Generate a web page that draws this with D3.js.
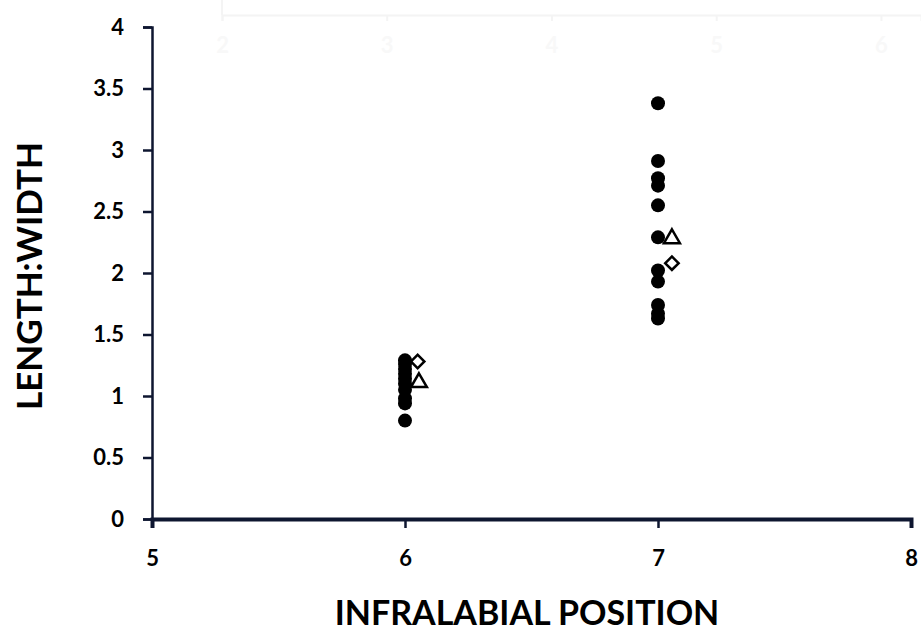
<!DOCTYPE html>
<html>
<head>
<meta charset="utf-8">
<script src="https://cdn.jsdelivr.net/npm/d3@7"></script>
<style>
  body { margin: 0; background: #fff; }
  svg { display: block; }
  .tick text { font-family: Lato, "Open Sans", sans-serif; font-weight: bold; }
</style>
</head>
<body>
<div id="chart"></div>
<script>
// filled circles (specimens) at each infralabial position
const circleX6 = [1.29, 1.26, 1.22, 1.18, 1.14, 1.10, 1.05, 0.98, 0.94, 0.80];
const circleX7 = [3.38, 2.91, 2.77, 2.71, 2.55, 2.29, 2.02, 1.93, 1.74, 1.67, 1.63];
// open markers, slightly offset to the right
const triPoints = [{x: 6.055, y: 1.11}, {x: 7.055, y: 2.28}];
const diaPoints = [{x: 6.05, y: 1.28}, {x: 7.055, y: 2.08}];
const xTicks = [5, 6, 7, 8];
const yTicks = [0, 0.5, 1, 1.5, 2, 2.5, 3, 3.5, 4];
const ghostTicks = [2, 3, 4, 5, 6]; // faint remnant of another panel at the top

const width = 921, height = 638;
const axisColor = "#0e1630";

const svg = d3.select("#chart")
    .append("svg")
        .attr("width", width)
        .attr("height", height);

// ghost axis, almost invisible
const gx = d3.scaleLinear().domain([2, 6.243]).range([222, 921]);
svg.append("line")
    .attr("x1", 222).attr("x2", 222).attr("y1", 0).attr("y2", 15)
    .attr("stroke", "#f4f4f4").attr("stroke-width", 2);
const ghost = svg.append("g")
    .attr("transform", "translate(0,15)")
    .call(d3.axisBottom(gx).tickValues(ghostTicks).tickSize(6).tickPadding(16).tickFormat(d3.format("d")));
ghost.select(".domain").attr("stroke", "#f4f4f4").attr("stroke-width", 2);
ghost.selectAll(".tick line").attr("stroke", "#f4f4f4").attr("stroke-width", 2);
ghost.selectAll(".tick text").attr("fill", "#f8f8f8").style("font-size", "22px");

// main scales
const x = d3.scaleLinear().domain([5, 8]).range([152, 911]);
const y = d3.scaleLinear().domain([0, 4]).range([519, 27]);

// Y axis
const yAxis = svg.append("g")
    .attr("transform", `translate(${x(5)},0)`)
    .call(d3.axisLeft(y).tickValues(yTicks).tickSize(9).tickPadding(19).tickFormat(d => d));
yAxis.select(".domain").attr("stroke", axisColor).attr("stroke-width", 2.5);
yAxis.selectAll(".tick line").attr("stroke", axisColor).attr("stroke-width", 2.5);
yAxis.selectAll(".tick text").attr("fill", "#000").style("font-size", "22px");

// X axis
const xAxis = svg.append("g")
    .attr("transform", `translate(0,${y(0)})`)
    .call(d3.axisBottom(x).tickValues(xTicks).tickSize(9).tickPadding(22).tickFormat(d3.format("d")));
xAxis.select(".domain").attr("stroke", axisColor).attr("stroke-width", 4);
xAxis.selectAll(".tick line").attr("stroke", axisColor).attr("stroke-width", 2.5);
xAxis.selectAll(".tick text").attr("fill", "#000").style("font-size", "22px");

// circles
const circles = circleX6.map(v => ({x: 6, y: v})).concat(circleX7.map(v => ({x: 7, y: v})));
svg.selectAll("circle.pt")
    .data(circles)
    .enter()
    .append("circle")
        .attr("class", "pt")
        .attr("cx", d => x(d.x))
        .attr("cy", d => y(d.y))
        .attr("r", 7)
        .attr("fill", "#000");

// open triangles
svg.selectAll("path.tri")
    .data(triPoints)
    .enter()
    .append("path")
        .attr("class", "tri")
        .attr("d", d3.symbol().type(d3.symbolTriangle).size(110))
        .attr("transform", d => `translate(${x(d.x)},${y(d.y)})`)
        .attr("fill", "#fff")
        .attr("stroke", "#000")
        .attr("stroke-width", 2.5);

// open diamonds
svg.selectAll("path.dia")
    .data(diaPoints)
    .enter()
    .append("path")
        .attr("class", "dia")
        .attr("d", d3.symbol().type(d3.symbolSquare).size(90))
        .attr("transform", d => `translate(${x(d.x)},${y(d.y)}) rotate(45)`)
        .attr("fill", "#fff")
        .attr("stroke", "#000")
        .attr("stroke-width", 2.5);

// axis titles
svg.append("text")
    .attr("x", 527)
    .attr("y", 625)
    .style("text-anchor", "middle")
    .style("font-family", "Lato, 'Open Sans', sans-serif")
    .style("font-weight", "bold")
    .style("font-size", "34px")
    .text("INFRALABIAL POSITION");

svg.append("text")
    .attr("transform", "translate(42,276) rotate(-90)")
    .style("text-anchor", "middle")
    .style("font-family", "Lato, 'Open Sans', sans-serif")
    .style("font-weight", "bold")
    .style("font-size", "35px")
    .text("LENGTH:WIDTH");
</script>
</body>
</html>
